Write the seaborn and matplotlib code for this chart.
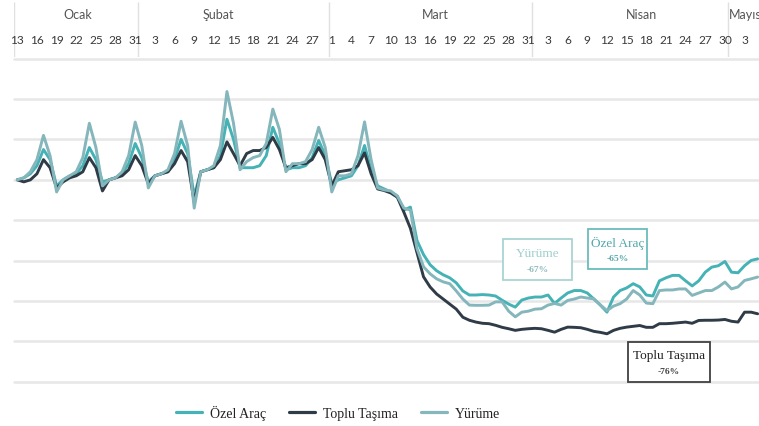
import numpy as np
import pandas as pd
import matplotlib
matplotlib.use("Agg")
import matplotlib.pyplot as plt
import matplotlib.dates as mdates
from matplotlib.lines import Line2D
from matplotlib.patches import Rectangle
import seaborn as sns

# --- data: Apple mobility index, 13 Jan 2020 = 100 ---------------------------
start_date = "2020-01-13"
end_date = "2020-05-05"

ozel_arac = [
    100, 101, 103, 107, 115, 110, 97,
    100, 102, 103, 107, 116, 110, 99,
    100, 101, 103, 108, 118, 111, 99,
    102, 103, 104, 110, 120, 113, 92,
    104, 105, 106, 112, 130, 120, 106,
    106, 106, 107, 112, 126, 118, 105,
    106, 106, 107, 111, 119.5, 112, 98,
    100, 101, 102, 107, 117, 105, 97,
    95.5, 94, 92, 85, 86.5, 70, 63,
    58, 55, 53, 51.5, 49, 45, 43,
    43, 43.2, 43, 42.5, 40.4, 38.5, 37,
    40.5, 41.5, 42, 42, 43, 38.8, 41.5,
    44, 45.2, 45.2, 44, 41, 38, 34.5,
    42, 45.2, 46.5, 48.6, 47, 43, 42.5,
    50, 51.5, 52.7, 52.7, 50, 47.5, 50,
    54.3, 56.8, 57.5, 59.6, 54.3, 54, 57.5,
    60.1, 60.9,
]

toplu_tasima = [
    100, 99, 100, 103, 110, 106, 96,
    99, 101, 102, 104, 111, 106, 94.5,
    100, 101, 102, 105, 112, 107, 98,
    102, 103, 104, 108, 114.5, 109, 89,
    104, 105, 106, 110, 118.8, 113, 107,
    113, 114.5, 114.5, 116, 121, 115, 106,
    107, 108, 108, 110, 116, 110, 97,
    104, 104.5, 105, 107, 113.4, 103, 95.5,
    94.7, 93.5, 91.4, 84, 76, 64, 52,
    47, 43.5, 41, 38.5, 36, 32, 30.5,
    29.6, 29, 28.8, 28, 27, 26.3, 25.5,
    26, 26.3, 26.5, 26.3, 25.5, 24.6, 26,
    27.1, 27, 26.8, 26, 25, 24.5, 23.8,
    25.5, 26.5, 27.1, 27.5, 27.9, 27, 27,
    28.8, 28.8, 29, 29.3, 29.6, 29, 30.4,
    30.5, 30.5, 30.6, 30.9, 30, 29.6, 34.5,
    34.5, 33.7,
]

yurume = [
    100, 101, 104, 110, 122, 112, 94,
    100, 102, 104, 111, 128, 116, 97,
    100, 101, 104, 112, 128.6, 117, 96,
    102, 103, 105, 113, 129, 117, 86,
    104, 105, 107, 117, 143.7, 128, 105,
    109, 111, 112, 118, 135, 125, 104,
    108, 108, 109, 115, 126, 116, 94,
    102, 102, 103, 112, 128.7, 110, 96,
    95, 94.5, 92, 86, 85, 66, 57,
    53.5, 51, 49.5, 48.6, 45, 41, 38,
    37.9, 37.9, 38, 39.6, 39.6, 35, 32.2,
    34.5, 35, 36, 36.2, 38, 38.8, 38,
    40.3, 41, 42, 41.5, 41.1, 38, 35.3,
    37.5, 38.7, 41, 45.2, 43, 39, 38.7,
    45.2, 45.5, 45.5, 46, 46, 42.8, 44,
    45.2, 45.2, 47, 49.4, 46, 47, 50.2,
    51, 51.9,
]

series_names = ["Özel Araç", "Toplu Taşıma", "Yürüme"]
month_names = ["Ocak", "Şubat", "Mart", "Nisan", "Mayıs"]

# callouts: series name, change label
callouts = [
    ("Yürüme", "-67%"),
    ("Özel Araç", "-65%"),
    ("Toplu Taşıma", "-76%"),
]

# --- tidy frame ---------------------------------------------------------------
dates = pd.date_range(start_date, end_date, freq="D")
df = pd.concat(
    [
        pd.DataFrame({"tarih": dates, "deger": vals, "seri": name})
        for name, vals in zip(series_names, [ozel_arac, toplu_tasima, yurume])
    ],
    ignore_index=True,
)

# --- style --------------------------------------------------------------------
sns.set_theme(style="white")
plt.rcParams["font.family"] = ["Lato", "DejaVu Sans"]

colors = {"Özel Araç": "#45b2b5", "Toplu Taşıma": "#2f3b47", "Yürüme": "#84b6bb"}
serif = ["Liberation Serif", "DejaVu Serif"]

W, H = 759, 427
fig = plt.figure(figsize=(W / 100, H / 100), dpi=100)

left_px, right_px = 14, 759
top_px, bottom_px = 58, 395
ax = fig.add_axes([left_px / W, (H - bottom_px) / H,
                   (right_px - left_px) / W, (bottom_px - top_px) / H])
ax_top = fig.add_axes([left_px / W, (H - top_px) / H,
                       (right_px - left_px) / W, top_px / H])

t0 = mdates.date2num(dates[0])
xlim = (t0 - 0.5, t0 + 113.2)

# horizontal grid
for v in range(0, 161, 20):
    ax.axhline(v, color="#e7e7e7", lw=1.8, zorder=0, clip_on=False)

sns.lineplot(data=df, x="tarih", y="deger", hue="seri", hue_order=series_names,
             palette=colors, linewidth=2.1, legend=False, ax=ax, zorder=3)
for ln in ax.lines:
    ln.set_solid_joinstyle("round")

ax.set_xlim(*xlim)
ax.set_ylim(-6, 160.8)
ax.set_xticks([])
ax.set_yticks([])
ax.set_xlabel("")
ax.set_ylabel("")
for s in ax.spines.values():
    s.set_visible(False)

# --- header with month names and day numbers ----------------------------------
ax_top.set_xlim(*xlim)
ax_top.set_ylim(0, 1)
ax_top.axis("off")

month_starts = [t0 - 0.5] + [
    mdates.date2num(pd.Timestamp(f"2020-{m:02d}-01")) - 0.5 for m in (2, 3, 4, 5)
]
ax_top.vlines(month_starts, 0.0, 0.95, color="#e0e0e0", lw=1.0)

month_label_days = [9.2, 30.7, 63.8, 95.2, 111.1]
for name, d in zip(month_names, month_label_days):
    ax_top.text(t0 + d, 0.74, name, ha="center", va="center",
                fontsize=9, color="#555555", clip_on=False)

for d in dates[::3]:
    ax_top.text(mdates.date2num(d), 0.31, str(d.day), ha="center", va="center",
                fontsize=8.6, color="#3a3a3a")

# --- callout boxes --------------------------------------------------------------
box_specs = {
    # (x0 day, x1 day, bottom, top, edge colour, name colour, pct colour)
    "Yürüme": (74.1, 84.7, 50.4, 70.7, "#a9d3d3", "#9fcfcf", "#8fbcbd"),
    "Özel Araç": (87.1, 96.1, 55.9, 75.6, "#6bbcbe", "#4fa8ab", "#5aa9ac"),
    "Toplu Taşıma": (93.2, 105.7, -0.1, 19.7, "#404040", "#222222", "#444444"),
}
for name, pct in callouts:
    x0, x1, y0, y1, ec, tc, pc = box_specs[name]
    ax.add_patch(Rectangle((t0 + x0, y0), x1 - x0, y1 - y0, facecolor="white",
                           edgecolor=ec, lw=1.3, zorder=5, clip_on=False))
    xc = t0 + (x0 + x1) / 2
    h = y1 - y0
    ax.text(xc, y1 - 0.33 * h, name, ha="center", va="center", fontsize=9.5,
            family=serif, color=tc, zorder=6)
    ax.text(xc, y1 - 0.72 * h, pct, ha="center", va="center", fontsize=6.8,
            family=serif, fontweight="bold", color=pc, zorder=6)

# --- legend -------------------------------------------------------------------
handles = [Line2D([0], [0], color=colors[n], lw=2.3) for n in series_names]
fig.legend(handles, series_names, loc="center", bbox_to_anchor=(338 / W, (H - 413) / H),
           ncol=3, frameon=False, handlelength=1.9, handletextpad=0.6,
           columnspacing=1.6, prop={"family": serif, "size": 10},
           labelcolor="#222222")

fig.savefig("out.png", dpi=100, facecolor="white")
